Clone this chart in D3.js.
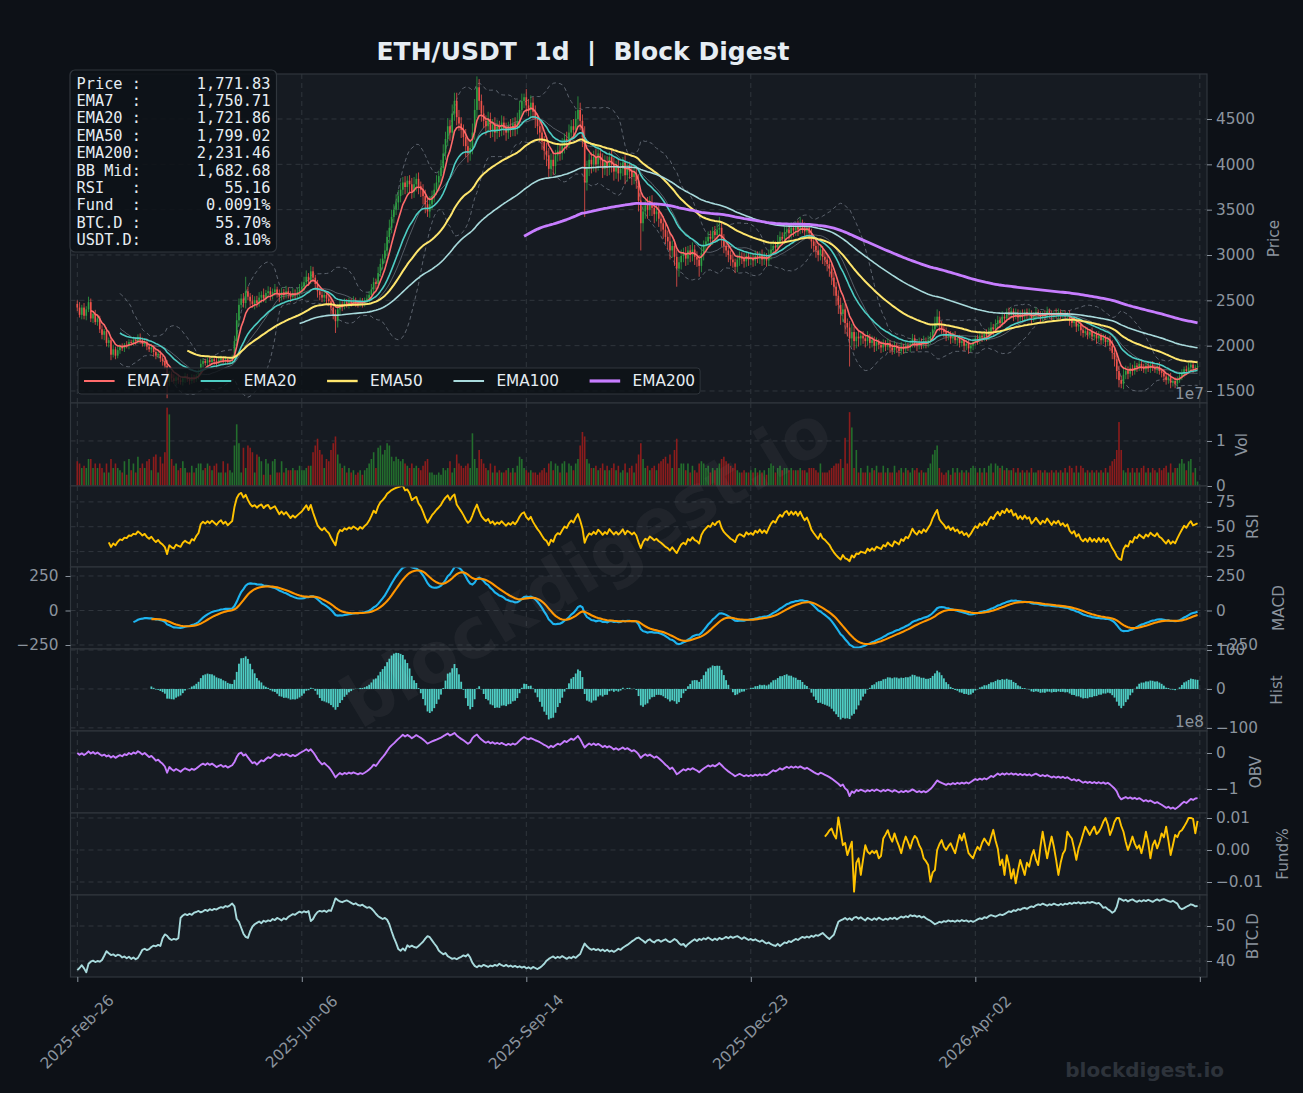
<!DOCTYPE html>
<html><head><meta charset="utf-8">
<script src="https://cdn.jsdelivr.net/npm/d3@7/dist/d3.min.js"></script>
<style>
html,body{margin:0;padding:0;background:#0d1117;overflow:hidden;}
svg{display:block;}
</style></head><body>
<svg id="chart" width="1303" height="1093"></svg>
<script>
// ================= DATA =================
const title = "ETH/USDT  1d  |  Block Digest";
const firstOpen = 2460;
const closes = [
2420,2340,2420,2330,2400,2480,2300,2350,2260,2300,
2180,2120,2160,2030,2060,1900,1960,1890,1950,1990,
1970,2010,2000,2040,2030,2060,2050,2090,2060,2020,
2040,1990,1960,1980,1930,1890,1910,1860,1830,1780,
1600,1690,1640,1610,1650,1620,1600,1640,1660,1630,
1610,1650,1630,1670,1700,1800,1830,1810,1840,1820,
1850,1830,1810,1840,1860,1830,1850,1820,1840,1860,
2050,2280,2450,2520,2470,2600,2540,2490,2460,2500,
2470,2530,2560,2520,2580,2600,2560,2590,2620,2580,
2540,2590,2560,2600,2570,2540,2580,2560,2590,2620,
2650,2700,2760,2720,2820,2750,2680,2600,2560,2530,
2560,2520,2490,2420,2350,2270,2400,2460,2440,2480,
2460,2490,2470,2500,2480,2460,2490,2470,2500,2520,
2560,2620,2700,2680,2800,2900,2960,3050,3200,3300,
3420,3500,3580,3650,3720,3800,3750,3820,3780,3700,
3780,3840,3760,3720,3650,3560,3480,3560,3650,3720,
3800,3870,3960,4120,4280,4420,4350,4560,4700,4520,
4450,4380,4300,4200,4120,4180,4350,4600,4850,4700,
4560,4480,4420,4500,4380,4440,4350,4420,4380,4460,
4400,4350,4420,4380,4450,4400,4480,4600,4700,4740,
4650,4600,4680,4580,4500,4420,4350,4250,4150,4100,
3950,4050,3980,4100,4150,4120,4200,4280,4250,4350,
4420,4380,4500,4600,4480,4300,3800,3950,4050,4000,
4080,4000,4120,4050,3950,4020,3960,4080,4000,3920,
3980,3900,3950,4020,3880,3960,3920,3860,3900,3820,
3600,3350,3480,3550,3500,3580,3520,3450,3480,3400,
3350,3280,3200,3150,3050,3100,2980,2850,2920,2990,
3020,2960,3050,3000,3060,2980,2950,2880,3020,3100,
3150,3200,3180,3260,3220,3280,3300,3180,3100,3050,
3000,2950,2920,2870,2950,2980,2960,2930,2990,2950,
2970,2940,2990,2960,3000,2950,2980,2940,3000,3060,
3100,3080,3150,3200,3180,3250,3280,3240,3300,3270,
3320,3280,3350,3300,3260,3300,3240,3150,3100,3050,
3000,3060,2980,2950,2900,2850,2750,2650,2550,2450,
2350,2400,2250,2200,2080,2150,2050,2100,2080,2110,
2080,2050,2100,2030,2060,2000,2040,2010,1980,2020,
1990,2030,1980,1950,2000,1970,1940,1990,1960,2000,
1980,2020,2080,2030,2000,2040,2010,2050,2020,2060,
2100,2180,2250,2320,2220,2180,2150,2100,2130,2080,
2110,2060,2080,2030,2050,2000,2020,1970,2000,2040,
2080,2060,2110,2090,2130,2100,2160,2200,2180,2240,
2280,2250,2320,2300,2370,2340,2380,2330,2360,2310,
2350,2320,2370,2340,2360,2300,2330,2370,2340,2310,
2350,2330,2380,2350,2320,2360,2340,2370,2330,2350,
2320,2340,2280,2250,2270,2210,2230,2170,2140,2160,
2120,2150,2100,2120,2080,2110,2060,2090,2040,2060,
2000,1920,1850,1720,1620,1580,1680,1720,1690,1750,
1720,1780,1760,1800,1770,1740,1780,1750,1790,1760,
1740,1770,1720,1700,1660,1620,1650,1590,1610,1580,
1620,1660,1700,1740,1720,1760,1790,1750,1760,1771.83];
const wickUp = [
40,60,30,50,35,60,40,30,45,35, 30,45,25,40,30,35,50,30,40,25,
35,20,40,30,25,40,30,35,45,30, 25,40,30,35,20,30,25,35,30,40,
60,30,25,45,20,35,30,25,40,30, 25,35,30,20,40,50,30,25,30,35,
20,30,35,25,30,20,35,25,30,40, 60,80,70,50,60,160,50,40,70,45,
50,60,40,70,35,55,45,40,60,30, 40,50,35,60,45,30,55,40,50,60,
50,60,70,40,60,50,30,45,35,40, 40,30,35,30,40,50,60,45,30,40,
35,40,30,45,30,25,40,35,30,45, 40,60,50,40,70,60,50,80,70,90,
80,60,90,70,80,60,70,50,60,70, 80,60,70,50,60,70,80,90,60,70,
80,60,90,100,80,90,70,100,90,90, 80,70,60,90,70,80,100,120,120,90,
70,90,60,80,70,60,80,70,60,80, 70,60,50,80,60,70,90,100,80,40,
90,70,80,60,70,60,80,70,60,90, 80,70,90,60,80,70,90,60,80,90,
70,80,90,150,80,70,120,90,70,80, 70,90,80,60,70,80,70,60,90,70,
60,80,70,60,80,60,70,80,60,70, 70,90,80,60,90,70,80,60,70,80,
70,80,60,70,90,60,70,80,60,70, 60,70,50,60,80,50,60,50,70,60,
50,60,70,50,60,70,120,60,50,60, 60,50,70,40,50,60,50,60,50,40,
50,40,60,50,40,60,50,40,60,70, 60,50,70,60,50,60,70,50,60,50,
50,60,70,40,60,50,40,50,60,50, 60,50,40,50,60,40,50,60,50,60,
80,70,60,50,70,90,60,50,60,40, 50,40,60,30,50,40,50,30,40,50,
40,50,30,40,50,30,40,50,30,40, 30,40,50,40,30,50,40,60,40,50,
50,60,70,80,60,50,40,50,40,30, 40,50,30,40,50,30,40,50,30,40,
30,40,50,40,30,50,40,60,40,50, 50,40,60,30,40,50,40,30,50,40,
40,50,30,40,50,30,40,50,30,40, 30,40,50,30,40,30,50,40,30,40,
40,30,50,40,30,50,40,30,40,50, 40,30,50,30,40,50,30,40,30,40,
50,60,50,70,60,50,80,60,50,60, 40,50,30,40,50,30,40,50,30,40,
30,40,50,30,40,30,40,50,30,40, 40,50,40,30,40,50,30,40,30,35];
const wickDn = [
40,30,50,40,50,30,40,50,30,40, 40,50,60,40,50,60,30,40,30,40,
30,40,30,40,30,30,40,30,40,30, 30,40,30,40,50,40,30,40,50,40,
180,50,40,30,50,40,30,40,50,30, 40,30,40,30,40,30,40,30,40,30,
30,40,50,30,40,30,40,30,30,40, 40,50,60,40,50,60,40,50,40,60,
50,40,60,40,50,40,60,50,40,50, 60,40,50,40,50,60,40,50,40,50,
40,50,40,60,40,50,60,70,60,50, 50,60,50,70,60,130,70,50,60,40,
40,50,40,30,50,40,30,50,40,40, 40,50,40,60,50,40,60,50,60,70,
60,70,60,80,70,60,80,70,90,80, 70,80,90,80,90,100,60,70,60,70,
60,70,80,60,70,80,90,70,80,90, 80,90,100,120,100,80,70,80,90,100,
90,80,100,70,90,80,100,70,80,70, 80,90,70,80,70,90,70,80,70,80,
80,70,90,80,100,90,100,90,100,120, 90,80,100,90,70,80,70,80,90,70,
80,90,70,80,100,110,380,90,80,100, 80,90,70,90,100,70,90,80,90,100,
80,90,70,80,100,70,80,90,80,90, 120,300,90,80,100,70,90,100,80,90,
90,100,80,90,100,80,100,200,90,80, 70,80,70,80,70,90,80,120,70,80,
70,60,80,70,60,80,70,90,80,70, 80,70,60,70,60,70,60,70,60,70,
60,70,60,50,60,70,60,70,60,50, 60,70,50,60,70,60,50,70,60,70,
60,70,50,60,70,60,70,80,70,80, 70,60,80,70,80,90,80,100,110,100,
120,90,120,100,310,90,100,80,90,80, 60,70,50,60,50,70,60,50,60,50,
50,40,60,50,40,50,60,40,50,40, 40,50,40,50,60,40,50,40,50,40,
40,50,40,50,60,50,60,50,40,60, 50,40,60,50,40,60,50,60,40,50,
40,50,40,50,40,50,40,50,60,40, 40,50,40,50,40,50,40,60,40,50,
40,50,40,50,40,60,40,50,40,50, 40,50,40,50,40,50,40,50,40,50,
50,40,60,50,40,60,50,60,50,40, 50,40,50,40,60,40,50,40,50,40,
60,70,80,90,80,50,60,50,60,40, 50,40,50,40,50,40,50,40,50,40,
40,50,40,50,60,50,40,60,40,50, 40,30,40,50,40,30,40,50,40,30];
const volumeMillions = [
5.5,5.0,4.0,4.5,4.0,6.0,6.0,4.0,5.0,4.0, 5.0,4.0,3.0,5.0,3.0,6.0,4.0,5.0,4.0,3.5,
3.0,5.5,2.5,6.0,3.5,5.0,3.0,6.5,4.0,5.0, 4.0,5.5,6.0,3.5,6.5,7.0,3.0,6.5,5.0,7.5,
17.4,15.9,6.0,4.5,5.0,3.5,4.0,5.5,4.0,3.0, 3.0,4.5,3.0,4.0,5.0,5.0,3.5,4.0,5.0,4.5,
3.5,4.5,5.0,3.0,3.0,5.5,3.0,5.0,3.5,3.0, 9.0,13.7,9.5,3.0,8.5,4.0,9.0,8.5,7.5,3.0,
7.0,6.5,5.5,2.5,6.0,5.0,2.5,5.5,6.0,3.0, 3.0,5.5,3.0,4.0,3.5,3.5,4.0,3.5,3.5,4.5,
3.5,3.5,4.0,4.5,4.5,7.5,9.0,10.5,8.0,7.0, 4.0,6.0,5.5,8.0,9.5,11.0,7.0,5.0,4.0,4.5,
3.0,4.0,3.0,3.5,2.5,3.0,3.5,2.5,3.5,4.0, 5.0,6.0,7.5,4.0,8.5,9.0,7.0,8.0,9.5,9.0,
6.5,5.5,6.5,6.0,5.5,6.0,5.0,4.5,4.0,5.0, 4.0,4.5,4.0,3.5,4.5,5.5,6.0,3.0,3.0,2.5,
2.5,3.0,2.5,4.0,3.5,4.0,5.5,3.0,4.0,7.0, 5.0,4.5,4.0,4.5,5.0,4.0,11.7,6.0,4.0,8.0,
6.0,5.0,4.0,3.5,5.0,3.0,4.5,3.0,3.5,3.0, 3.0,3.5,4.0,3.0,4.0,3.0,4.5,6.5,6.0,4.0,
3.5,3.0,3.5,3.0,3.0,2.5,3.0,3.5,4.0,3.0, 5.0,5.5,3.5,5.0,4.5,3.0,5.0,5.5,3.0,5.0,
4.5,3.5,5.0,6.0,9.0,12.0,11.0,6.0,5.0,4.0, 4.0,4.5,3.5,4.0,5.0,3.5,4.5,3.5,4.0,5.0,
3.5,4.5,3.0,3.5,5.0,3.0,4.0,4.5,3.0,5.0, 7.0,9.5,6.0,4.0,4.5,3.5,4.0,4.5,3.5,5.0,
5.5,6.0,6.5,5.0,7.0,4.0,8.0,10.5,4.0,5.0, 5.0,3.5,5.0,3.0,4.5,3.5,3.0,5.0,5.5,5.0,
4.0,4.5,3.0,4.0,3.5,4.0,5.0,6.0,6.5,5.5, 5.0,4.5,4.0,5.0,3.5,3.0,3.0,3.5,3.0,3.0,
3.5,3.0,4.0,3.0,3.5,3.0,3.5,2.5,4.0,5.0, 4.5,3.0,4.0,4.5,3.5,4.0,4.0,3.5,4.0,3.5,
3.5,3.5,4.0,3.5,3.5,3.0,4.0,4.0,4.0,3.5, 3.0,5.0,3.0,3.0,3.0,3.5,4.0,4.5,5.0,5.0,
6.0,4.0,10.7,5.0,16.4,13.0,4.0,8.0,3.0,4.0, 3.0,3.0,4.5,3.0,4.0,3.5,4.5,3.0,3.0,4.5,
3.0,4.0,3.0,3.0,4.5,3.0,3.5,4.0,3.0,4.0, 3.5,3.0,4.0,3.5,4.0,3.0,3.5,3.0,3.0,4.0,
5.0,7.0,8.0,9.0,4.0,3.0,2.5,3.0,3.5,2.5, 4.0,3.0,4.0,3.0,3.5,3.0,3.5,3.0,4.0,4.5,
4.0,3.0,4.0,3.0,4.0,3.0,4.5,5.0,3.0,5.0, 4.5,4.0,4.5,3.5,4.0,3.5,3.5,4.0,3.0,4.0,
3.0,3.5,3.0,3.5,3.0,4.0,3.0,3.0,3.5,3.5, 3.0,3.5,3.0,3.0,3.5,3.0,3.5,3.0,3.5,3.0,
4.0,3.0,4.5,4.0,3.0,4.5,3.0,4.5,4.0,3.0, 3.5,3.0,3.5,3.0,3.5,3.0,3.5,3.0,4.0,3.0,
4.5,5.5,6.0,8.0,14.2,8.0,3.5,3.0,4.0,3.0, 4.0,3.0,4.0,3.0,4.0,4.5,3.0,4.0,3.0,4.0,
3.5,3.0,4.0,3.5,4.0,4.5,3.0,5.0,3.0,4.0, 4.0,5.0,6.0,5.0,3.5,5.5,6.0,3.0,4.0,1.0];
const btcDominance = [
37.4,38.0,38.8,37.9,36.8,39.2,39.8,40.1,39.7,40.0, 39.8,40.3,41.5,42.8,42.2,41.7,41.9,41.4,41.8,41.6,
41.0,41.3,40.8,41.2,40.6,41.0,40.5,40.9,42.0,43.2, 43.5,43.1,43.4,44.0,44.4,44.2,44.6,44.3,46.5,47.6,
47.2,46.4,46.0,46.3,46.1,46.5,52.3,53.0,53.4,53.1, 53.5,53.2,53.8,54.0,54.3,53.9,54.2,54.6,54.3,54.8,
54.5,54.9,54.7,55.1,55.4,55.2,55.7,55.5,55.9,56.4, 55.6,52.0,51.2,49.5,47.8,46.9,46.6,48.5,49.8,50.5,
50.9,51.3,50.8,51.5,51.2,51.6,51.4,52.0,51.7,52.3, 52.0,51.6,52.2,51.9,52.6,53.0,53.4,53.2,53.7,54.1,
53.8,54.2,53.9,54.3,51.4,52.0,53.2,54.0,54.3,54.1, 54.4,54.0,54.5,54.3,56.0,57.9,57.4,57.0,56.8,57.1,
57.3,57.0,56.6,56.2,56.5,56.0,55.8,56.1,55.6,55.2, 55.4,55.0,54.3,53.5,52.8,52.4,52.0,52.3,51.8,50.5,
48.5,46.7,45.2,43.4,42.9,43.6,43.0,44.5,44.0,44.4, 44.0,43.8,44.3,44.9,45.5,46.4,47.1,46.8,45.9,45.0,
44.2,43.0,42.4,41.9,42.3,41.4,41.0,40.6,40.8,40.5, 40.9,41.2,41.6,41.3,41.9,41.0,39.5,38.6,38.2,38.7,
38.4,38.9,38.6,38.3,38.7,38.5,38.9,38.6,39.2,38.8, 38.5,38.9,38.4,38.7,38.3,38.6,38.2,38.5,38.1,38.4,
37.9,38.2,37.8,38.3,38.0,37.7,38.1,38.6,39.2,40.1, 40.6,41.0,41.3,40.8,41.2,40.9,41.4,41.0,40.6,41.1,
40.8,41.3,40.9,41.5,42.0,43.6,45.0,44.2,43.6,43.2, 43.5,43.1,43.4,42.9,43.3,42.8,43.2,42.7,43.0,42.6,
43.0,43.5,43.2,43.8,44.2,44.6,45.1,45.6,46.0,46.5, 46.7,46.2,45.8,45.2,45.9,46.2,45.6,45.3,45.9,46.0,
45.5,45.9,46.2,45.7,45.4,45.8,46.3,45.9,45.1,44.6, 44.9,44.1,44.8,45.3,45.8,46.2,45.7,46.3,46.0,46.5,
46.2,46.7,46.3,45.9,46.4,46.0,46.6,46.2,46.5,46.9, 46.5,47.0,46.6,46.9,47.1,46.7,46.3,46.8,46.4,46.0,
46.3,45.9,46.2,45.8,45.5,45.9,45.4,45.0,45.3,44.8, 44.5,44.3,44.9,44.3,44.8,45.3,45.1,45.7,45.4,45.9,
46.3,46.0,46.5,46.9,46.6,47.0,46.7,47.2,46.9,47.4, 47.2,47.6,48.0,47.4,46.8,46.3,46.9,47.5,49.4,51.2,
51.6,51.9,52.3,51.8,52.2,51.7,52.4,52.6,52.1,52.5, 52.0,51.6,52.3,52.0,51.7,52.2,51.8,52.4,52.0,51.7,
52.1,51.8,52.3,52.0,52.4,51.9,52.3,52.7,52.4,52.8, 52.5,53.1,52.8,53.0,52.6,52.9,52.4,52.7,52.2,51.8,
51.5,51.0,50.5,50.8,51.2,51.0,51.4,51.2,51.6,51.3, 51.5,51.2,51.6,51.3,51.7,51.4,51.6,51.2,51.5,51.2,
51.5,51.9,52.2,52.0,52.5,52.3,52.8,53.1,52.9,52.7, 53.0,53.3,53.1,53.4,53.8,54.2,54.0,54.5,54.3,54.8,
54.6,55.0,55.2,54.9,55.3,55.6,55.4,55.9,56.2,56.0, 56.4,56.1,55.8,56.2,56.0,56.4,56.1,55.9,56.3,56.0,
56.4,56.2,56.6,56.3,56.7,56.5,56.8,56.4,56.7,56.5, 56.8,56.6,56.9,56.7,56.4,56.6,56.0,55.2,55.4,54.8,
54.4,53.8,54.2,55.5,57.9,57.6,57.2,57.5,57.0,57.4, 57.6,57.2,56.9,57.3,57.0,57.4,57.1,57.5,57.2,56.9,
57.3,57.6,57.2,57.5,57.7,57.4,57.1,56.9,57.2,56.8, 56.4,55.2,54.8,55.1,55.5,55.8,56.2,56.0,55.6,55.7];
const fundingStartIndex = 333;
const fundingRate = [
0.0042,0.0050,0.0061,0.0067,0.0048,0.0036,0.0102,0.0060,0.0015,0.0022,
-0.0016,0.0005,0.0026,-0.0130,-0.0040,-0.0026,-0.0078,-0.0030,0.0015,-0.0005,
-0.0012,-0.0003,-0.0010,-0.0002,-0.0026,-0.0018,0.0036,0.0048,0.0062,0.0040,
0.0026,0.0052,0.0030,0.0012,-0.0010,0.0020,0.0042,0.0025,0.0005,0.0030,
0.0044,0.0036,0.0015,0.0002,-0.0026,-0.0035,-0.0047,-0.0099,-0.0070,-0.0063,
0.0000,0.0018,0.0031,0.0010,0.0000,0.0012,0.0021,0.0005,-0.0010,0.0020,
0.0047,0.0030,0.0052,0.0020,-0.0010,-0.0018,-0.0026,-0.0005,0.0010,0.0000,
0.0022,0.0036,0.0025,0.0015,0.0040,0.0063,0.0030,0.0005,-0.0047,-0.0030,
-0.0078,-0.0016,-0.0045,-0.0089,-0.0060,-0.0104,-0.0065,-0.0031,-0.0055,-0.0078,
-0.0040,-0.0052,-0.0020,0.0000,-0.0030,-0.0047,0.0010,0.0057,0.0015,-0.0026,
0.0010,0.0042,0.0010,-0.0031,-0.0078,-0.0040,-0.0012,0.0000,0.0057,0.0045,
0.0036,0.0005,-0.0031,0.0005,0.0026,0.0050,0.0073,0.0060,0.0047,0.0062,
0.0073,0.0050,0.0057,0.0070,0.0088,0.0100,0.0080,0.0047,0.0065,0.0088,
0.0100,0.0100,0.0075,0.0057,0.0025,0.0000,0.0020,0.0042,0.0020,0.0005,
0.0015,-0.0010,0.0020,0.0057,0.0025,-0.0026,0.0015,0.0030,0.0005,0.0025,
0.0052,0.0040,0.0073,0.0030,-0.0016,0.0015,0.0047,0.0040,0.0057,0.0062,
0.0073,0.0085,0.0100,0.0100,0.0097,0.0052,0.0091];
const dateTickIndex = [0,100,200,300,400,500];
const dateTickLabels = ["2025-Feb-26","2025-Jun-06","2025-Sep-14","2025-Dec-23","2026-Apr-02",""];
const infoLabels = ["Price :","EMA7  :","EMA20 :","EMA50 :","EMA200:","BB Mid:","RSI   :","Fund  :","BTC.D :","USDT.D:"];
const infoValues = ["1,771.83","1,750.71","1,721.86","1,799.02","2,231.46","1,682.68","55.16","0.0091%","55.70%","8.10%"];
const emaNames = ["EMA7","EMA20","EMA50","EMA100","EMA200"];
const emaSpans = [7,20,50,100,200];
const emaColors = ["#ff6b6b","#4ecdc4","#ffe66d","#a8dadc","#c77dff"];
const emaWidths = [1.6,1.6,2.0,1.6,2.8];

// ================= INDICATORS =================
const n = closes.length;
const opens = closes.map((c,i)=> i===0 ? firstOpen : closes[i-1]);
const highs = closes.map((c,i)=> Math.max(opens[i],c) + wickUp[i]);
const lows = closes.map((c,i)=> Math.min(opens[i],c) - wickDn[i]);
const volumes = volumeMillions.map(v=>v*1e6);
// exponential moving average (recursive form, seeded on the first valid value)
function ema(arr, span, minP){
  const a=2/(span+1); let prev=null, cnt=0;
  return arr.map(v=>{
    if(v==null||isNaN(v)) return null;
    prev = prev===null ? v : a*v+(1-a)*prev; cnt++;
    return cnt>=minP ? prev : null;
  });
}
const emas = emaSpans.map(s=>ema(closes,s,s));
const bbMid = closes.map((c,i)=> i<19?null: d3.mean(closes.slice(i-19,i+1)));
const bbSd = closes.map((c,i)=> i<19?null: d3.deviation(closes.slice(i-19,i+1)));
const bbUp = bbMid.map((m,i)=> m==null?null: m+2*bbSd[i]);
const bbLo = bbMid.map((m,i)=> m==null?null: m-2*bbSd[i]);
function rsiCalc(c,p){
  const out=new Array(c.length).fill(null); let ag=0, al=0;
  for(let i=1;i<c.length;i++){
    const d=c[i]-c[i-1], g=Math.max(d,0), l=Math.max(-d,0);
    if(i<=p){ ag+=g/p; al+=l/p; if(i<p) continue; }
    else { ag=(ag*(p-1)+g)/p; al=(al*(p-1)+l)/p; }
    out[i] = al===0?100:100-100/(1+ag/al);
  }
  return out;
}
const rsi = rsiCalc(closes,14);
const ema12 = ema(closes,12,12), ema26 = ema(closes,26,26);
const macd = closes.map((c,i)=> (ema12[i]==null||ema26[i]==null)?null: ema12[i]-ema26[i]);
const signal = ema(macd,9,9);
const hist = macd.map((m,i)=> (m==null||signal[i]==null)?null: m-signal[i]);
const obv = []; closes.forEach((c,i)=>{ if(i===0){obv.push(0);return;} const s=Math.sign(c-closes[i-1]); obv.push(obv[i-1]+s*volumes[i]); });
const funding = closes.map((c,i)=> (i>=fundingStartIndex && i-fundingStartIndex<fundingRate.length)? fundingRate[i-fundingStartIndex] : null);

// ================= LAYOUT =================
const W=1303,H=1093,L=70.5,R=1207;
const GRID='#30363d', TXT='#8b949e', PANEL='#161b22', BG='#0d1117', FS=15.3, FONT='"DejaVu Sans", sans-serif';
const svg=d3.select('#chart');
svg.append('rect').attr('width',W).attr('height',H).attr('fill',BG);
const x=d3.scaleLinear().domain([-3.03,503.2]).range([L,R]);
const idx=d3.range(n);
const fmtInt=d3.format('d');
const panelDefs = {
  price:{top:74,bottom:403,domain:[1367.6,4996.3],ticks:[1500,2000,2500,3000,3500,4000,4500],fmt:fmtInt,label:'Price',lx:1274},
  vol:{top:403,bottom:486,domain:[0,1.843e7],ticks:[0,1e7],fmt:d=>fmtInt(d/1e7),label:'Vol',lx:1242},
  rsi:{top:486,bottom:567,domain:[9.5,91],ticks:[25,50,75],fmt:fmtInt,label:'RSI',lx:1253},
  macd:{top:567,bottom:649,domain:[-279,315],ticks:[-250,0,250],fmt:fmtInt,label:'MACD',lx:1279},
  hist:{top:649,bottom:731,domain:[-108,102.6],ticks:[-100,0,100],fmt:fmtInt,label:'Hist',lx:1277},
  obv:{top:731,bottom:813,domain:[-1.667e8,0.611e8],ticks:[-1e8,0],fmt:d=>fmtInt(d/1e8),label:'OBV',lx:1256},
  fund:{top:813,bottom:895,domain:[-0.01406,0.01156],ticks:[-0.01,0,0.01],fmt:d3.format('.2f'),label:'Fund%',lx:1283},
  btcd:{top:895,bottom:977,domain:[35.43,58.86],ticks:[40,50],fmt:fmtInt,label:'BTC.D',lx:1253}
};
const P={};
Object.entries(panelDefs).forEach(([key,d])=>{
  const y=d3.scaleLinear().domain(d.domain).range([d.bottom,d.top]);
  const g=svg.append('g');
  g.append('rect').attr('x',L).attr('y',d.top).attr('width',R-L).attr('height',d.bottom-d.top).attr('fill',PANEL);
  svg.append('clipPath').attr('id','clip-'+key).append('rect').attr('x',L).attr('y',d.top).attr('width',R-L).attr('height',d.bottom-d.top);
  const grid=g.append('g');
  grid.selectAll('line.h').data(d.ticks).join('line').attr('x1',L).attr('x2',R).attr('y1',v=>y(v)).attr('y2',v=>y(v))
    .attr('stroke',GRID).attr('stroke-width',1).attr('stroke-dasharray','5,4');
  grid.selectAll('line.v').data(dateTickIndex).join('line').attr('x1',v=>x(v)).attr('x2',v=>x(v)).attr('y1',d.top).attr('y2',d.bottom)
    .attr('stroke',GRID).attr('stroke-width',1).attr('stroke-dasharray','5,4');
  const plot=g.append('g').attr('clip-path',`url(#clip-${key})`);
  const over=svg.append('g');
  P[key]={y,g,plot,over,d};
});
const line=(y,arr)=>d3.line().defined(i=>arr[i]!=null).x(i=>x(i)).y(i=>y(arr[i]));

// ---- price ----
{
  const {y,plot}=P.price;
  plot.append('path').datum(idx).attr('d',line(y,bbUp)).attr('fill','none').attr('stroke','#6e7681').attr('stroke-width',1).attr('stroke-dasharray','4,3').attr('opacity',0.8);
  plot.append('path').datum(idx).attr('d',line(y,bbLo)).attr('fill','none').attr('stroke','#6e7681').attr('stroke-width',1).attr('stroke-dasharray','4,3').attr('opacity',0.8);
  plot.append('path').datum(idx).attr('d',line(y,bbMid)).attr('fill','none').attr('stroke','#8b949e').attr('stroke-width',1).attr('opacity',0.55);
  const up='#2ea043', dn='#f0524a';
  plot.selectAll('line.wick').data(idx).join('line').attr('x1',i=>x(i)).attr('x2',i=>x(i)).attr('y1',i=>y(highs[i])).attr('y2',i=>y(lows[i]))
    .attr('stroke',i=>closes[i]>=opens[i]?up:dn).attr('stroke-width',0.8);
  plot.selectAll('rect.body').data(idx).join('rect').attr('x',i=>x(i)-0.8).attr('width',1.6)
    .attr('y',i=>y(Math.max(opens[i],closes[i]))).attr('height',i=>Math.max(0.8,Math.abs(y(opens[i])-y(closes[i]))))
    .attr('fill',i=>closes[i]>=opens[i]?up:dn);
  emas.forEach((e,k)=>{
    plot.append('path').datum(idx).attr('d',line(y,e)).attr('fill','none').attr('stroke',emaColors[k]).attr('stroke-width',emaWidths[k]).attr('stroke-linejoin','round');
  });
}
// ---- volume ----
{
  const {y,plot}=P.vol;
  plot.selectAll('rect').data(idx).join('rect').attr('x',i=>x(i)-0.8).attr('width',1.6)
    .attr('y',i=>y(volumes[i])).attr('height',i=>y(0)-y(volumes[i]))
    .attr('fill',i=>closes[i]>=opens[i]?'#236e2d':'#8c1c1c');
}
// ---- rsi ----
P.rsi.plot.append('path').datum(idx).attr('d',line(P.rsi.y,rsi)).attr('fill','none').attr('stroke','#ffc300').attr('stroke-width',1.9).attr('stroke-linejoin','round');
// ---- macd ----
P.macd.plot.append('path').datum(idx).attr('d',line(P.macd.y,macd)).attr('fill','none').attr('stroke','#1eb4f0').attr('stroke-width',2.1);
P.macd.plot.append('path').datum(idx).attr('d',line(P.macd.y,signal)).attr('fill','none').attr('stroke','#ff9500').attr('stroke-width',2.1);
// ---- hist ----
{
  const {y,plot}=P.hist;
  const hi=idx.filter(i=>hist[i]!=null);
  plot.selectAll('rect').data(hi).join('rect').attr('x',i=>x(i)-0.9).attr('width',1.8)
    .attr('y',i=>Math.min(y(0),y(hist[i]))).attr('height',i=>Math.abs(y(hist[i])-y(0))).attr('fill','#4ecdc4');
}
// ---- obv ----
P.obv.plot.append('path').datum(idx).attr('d',line(P.obv.y,obv)).attr('fill','none').attr('stroke','#c77dff').attr('stroke-width',1.9).attr('stroke-linejoin','round');
// ---- funding ----
P.fund.plot.append('path').datum(idx).attr('d',line(P.fund.y,funding)).attr('fill','none').attr('stroke','#ffc300').attr('stroke-width',1.9).attr('stroke-linejoin','round');
// ---- btc dominance ----
P.btcd.plot.append('path').datum(idx).attr('d',line(P.btcd.y,btcDominance)).attr('fill','none').attr('stroke','#a8dadc').attr('stroke-width',1.9).attr('stroke-linejoin','round');

// ---- axes, borders, labels ----
Object.entries(P).forEach(([key,p])=>{
  const d=p.d;
  p.over.append('rect').attr('x',L).attr('y',d.top).attr('width',R-L).attr('height',d.bottom-d.top).attr('fill','none').attr('stroke','#30363d').attr('stroke-width',1.2);
  const ag=p.over.append('g').attr('transform',`translate(${R},0)`).call(d3.axisRight(p.y).tickValues(d.ticks).tickSize(5).tickPadding(4).tickFormat(d.fmt));
  ag.select('.domain').remove();
  ag.selectAll('line').attr('stroke',TXT);
  ag.selectAll('text').attr('fill',TXT).attr('font-size',FS).attr('font-family',FONT);
  p.over.append('text').attr('transform',`translate(${d.lx},${(d.top+d.bottom)/2}) rotate(-90)`).attr('text-anchor','middle').attr('dominant-baseline','central')
    .attr('fill',TXT).attr('font-size',FS).attr('font-family',FONT).text(d.label);
});
{
  const p=P.macd;
  const ag=p.over.append('g').attr('transform',`translate(${L},0)`).call(d3.axisLeft(p.y).tickValues(p.d.ticks).tickSize(5).tickPadding(7).tickFormat(p.d.fmt));
  ag.select('.domain').remove();
  ag.selectAll('line').attr('stroke',TXT);
  ag.selectAll('text').attr('fill',TXT).attr('font-size',FS).attr('font-family',FONT);
}
// offset texts
svg.append('text').attr('x',1204).attr('y',398.5).attr('text-anchor','end').attr('fill',TXT).attr('font-size',FS).attr('font-family',FONT).text('1e7');
svg.append('text').attr('x',1204).attr('y',727).attr('text-anchor','end').attr('fill',TXT).attr('font-size',FS).attr('font-family',FONT).text('1e8');

// x axis
{
  const ag=svg.append('g').attr('transform','translate(0,977)').call(d3.axisBottom(x).tickValues(dateTickIndex).tickSize(5).tickFormat(''));
  ag.select('.domain').remove();
  ag.selectAll('line').attr('stroke',TXT);
  svg.selectAll('text.xl').data(dateTickIndex).join('text')
    .attr('transform',v=>`translate(${x(v)},1032) rotate(-45)`).attr('text-anchor','middle').attr('dominant-baseline','central')
    .attr('fill',TXT).attr('font-size',FS).attr('font-family',FONT).text((v,k)=>dateTickLabels[k]);
}

// legend
{
  const g=svg.append('g');
  const box=g.append('rect').attr('x',78).attr('y',368).attr('height',26).attr('rx',3)
    .attr('fill','#0d1117').attr('fill-opacity',0.8).attr('stroke','#30363d').attr('stroke-width',1);
  let cx=84;
  emaNames.forEach((nm,k)=>{
    g.append('line').attr('x1',cx).attr('x2',cx+30.6).attr('y1',381).attr('y2',381).attr('stroke',emaColors[k]).attr('stroke-width',emaWidths[k]+0.4);
    const t=g.append('text').attr('x',cx+43).attr('y',381).attr('dominant-baseline','central').attr('fill','#e6edf3').attr('font-size',FS).attr('font-family',FONT).text(nm);
    const w=t.node().getComputedTextLength();
    cx=cx+43+w+30.6;
  });
  box.attr('width',cx-30.6-78+5);
}

// info box
{
  const g=svg.append('g');
  g.append('rect').attr('x',70).attr('y',70).attr('width',206.5).attr('height',182).attr('rx',5)
    .attr('fill','#0d1117').attr('fill-opacity',0.88).attr('stroke','#30363d').attr('stroke-width',1.2);
  infoLabels.forEach((lab,k)=>{
    const yy=88.6+k*17.4;
    g.append('text').attr('x',76.5).attr('y',yy).attr('xml:space','preserve').style('white-space','pre')
      .attr('fill','#e6edf3').attr('font-size',15.3).attr('font-family','"DejaVu Sans Mono", monospace').text(lab);
    g.append('text').attr('x',270.5).attr('y',yy).attr('text-anchor','end')
      .attr('fill','#e6edf3').attr('font-size',15.3).attr('font-family','"DejaVu Sans Mono", monospace').text(infoValues[k]);
  });
}

// title
svg.append('text').attr('x',583).attr('y',60).attr('text-anchor','middle').attr('xml:space','preserve').style('white-space','pre')
  .attr('fill','#e6edf3').attr('font-size',25).attr('font-weight','bold').attr('font-family',FONT).text(title);

// watermarks
svg.append('text').attr('transform','translate(586,566) rotate(-31)').attr('text-anchor','middle').attr('dominant-baseline','central')
  .attr('fill','#ffffff').attr('fill-opacity',0.045).attr('font-size',70).attr('font-weight','bold').attr('font-family',FONT).text('blockdigest.io');
svg.append('text').attr('x',1224).attr('y',1077).attr('text-anchor','end')
  .attr('fill','#2d333b').attr('font-size',20).attr('font-weight','bold').attr('font-family',FONT).text('blockdigest.io');
</script>
</body></html>
